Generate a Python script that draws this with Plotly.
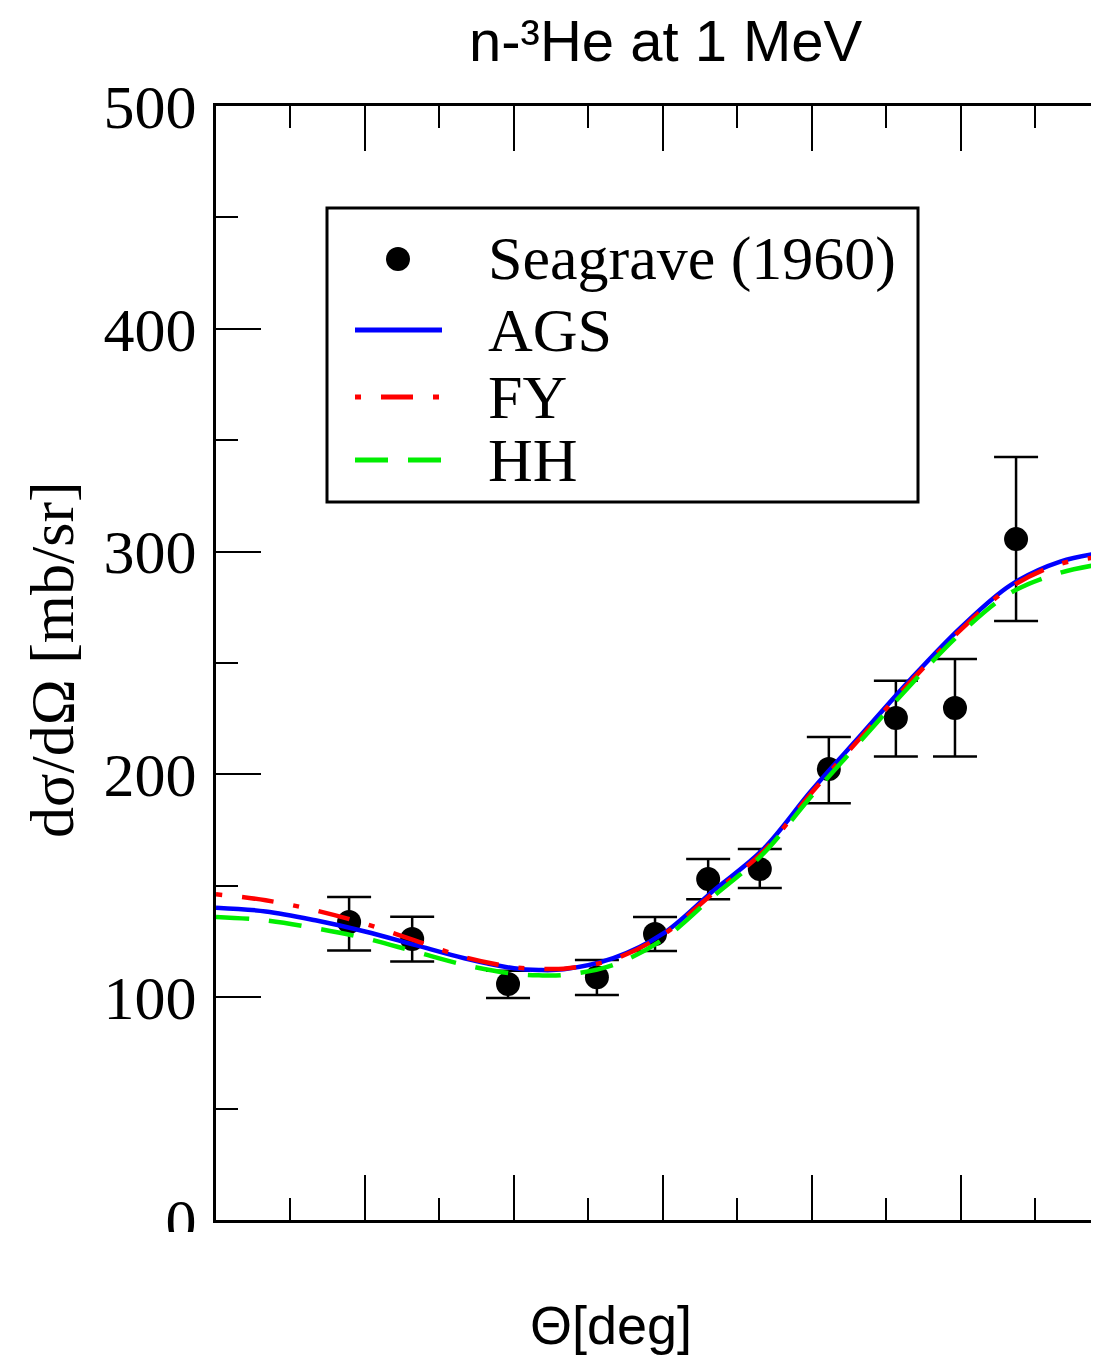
import plotly.graph_objects as go

# Seagrave (1960) data points
theta_exp = [26.8, 39.5, 58.8, 76.7, 88.4, 99.1, 109.5, 123.4, 136.9, 148.8, 161.1]
xs_exp = [133.8, 126.1, 105.9, 109.0, 128.4, 153.0, 157.5, 202.4, 225.3, 229.8, 305.6]
err_up = [11.2, 10.0, 6.0, 7.7, 7.6, 9.0, 9.0, 14.4, 16.7, 22.0, 36.9]
err_dn = [12.8, 10.1, 6.3, 8.0, 7.7, 9.0, 8.5, 15.4, 17.3, 21.8, 36.7]

# theory curves
theta_th = [0, 10, 20, 30, 40, 50, 60, 65, 70, 80, 90, 100, 110, 120, 130, 140, 150, 160, 170, 180]
ags = [140.2, 138.5, 134.5, 129.5, 123.5, 117.5, 113.0, 112.2, 112.5, 117.5, 128.5, 147.5, 166.0,
       193.0, 218.0, 243.0, 266.0, 285.0, 295.5, 300.0]
fy = [146.2, 143.5, 139.0, 133.0, 125.5, 118.0, 113.5, 112.8, 112.8, 117.0, 128.0, 146.5, 165.0,
      192.0, 217.0, 242.0, 265.0, 284.0, 294.5, 298.0]
hh = [136.0, 134.5, 131.0, 126.5, 120.5, 114.5, 110.5, 109.8, 110.0, 114.5, 126.0, 145.0, 164.0,
      190.5, 215.5, 240.5, 263.5, 281.5, 290.5, 295.0]

serif = "Liberation Serif"
sans = "Liberation Sans"

# the page body has an 8px margin, so the figure is drawn 8px smaller and shifted
OFF = 8
W, H = 1099 - OFF, 1356 - OFF
L, R, T = 216 - OFF, 0, 106 - OFF
B = H - (1220 - OFF)
pw, ph = W - L - R, H - T - B


def px(x):
    # page x pixel -> paper coordinate
    return (x - OFF - L) / pw


def py(y):
    # page y pixel -> paper coordinate
    return (H - B - (y - OFF)) / ph


blue = "#0000ff"
red = "#ff0000"
green = "#00ee00"
ags_dash = "solid"
fy_dash = "6px,20px,32px,20px"
hh_dash = "33px,20px"

fig = go.Figure()
fig.add_trace(go.Scatter(x=theta_exp, y=xs_exp, mode="markers", name="Seagrave (1960)",
                         marker=dict(color="black", size=24), showlegend=False,
                         error_y=dict(type="data", array=err_up, arrayminus=err_dn,
                                      color="black", thickness=2.5, width=22)))
fig.add_trace(go.Scatter(x=theta_th, y=ags, mode="lines", name="AGS", line_shape="spline",
                         showlegend=False, line=dict(color=blue, width=4.5, dash=ags_dash)))
fig.add_trace(go.Scatter(x=theta_th, y=fy, mode="lines", name="FY", line_shape="spline",
                         showlegend=False, line=dict(color=red, width=4.5, dash=fy_dash)))
fig.add_trace(go.Scatter(x=theta_th, y=hh, mode="lines", name="HH", line_shape="spline",
                         showlegend=False, line=dict(color=green, width=4.5, dash=hh_dash)))

# hand-drawn legend box, like the original figure
shapes = [
    dict(type="rect", xref="paper", yref="paper", x0=px(327), x1=px(918), y0=py(502), y1=py(208),
         line=dict(color="black", width=3), fillcolor="white", layer="above"),
    dict(type="circle", xref="paper", yref="paper", xsizemode="pixel", ysizemode="pixel",
         xanchor=px(398), yanchor=py(259), x0=-12, x1=12, y0=-12, y1=12,
         fillcolor="black", line=dict(width=0), layer="above"),
]
for yy, col, dsh in [(330, blue, ags_dash), (397, red, fy_dash), (460, green, hh_dash)]:
    shapes.append(dict(type="line", xref="paper", yref="paper", x0=px(355), x1=px(442),
                       y0=py(yy), y1=py(yy), line=dict(color=col, width=5, dash=dsh), layer="above"))
# white patch that clips the bottom of the "0" label like the original crop
shapes.append(dict(type="rect", xref="paper", yref="paper", x0=-0.3, x1=-0.004, y0=py(1232), y1=py(1290),
                   fillcolor="white", line=dict(width=0), layer="above"))

annotations = []
for yy, txt in [(258, "Seagrave (1960)"), (330, "AGS"), (397, "FY"), (460, "HH")]:
    annotations.append(dict(text=txt, xref="paper", yref="paper", x=px(486), y=py(yy),
                            xanchor="left", yanchor="middle", showarrow=False,
                            font=dict(family=serif, size=62, color="black")))
annotations.append(dict(text="Θ[deg]", xref="paper", yref="paper", x=px(611), y=py(1325),
                        xanchor="center", yanchor="middle", showarrow=False,
                        font=dict(family=sans, size=54, color="black")))
annotations.append(dict(text="dσ/dΩ [mb/sr]", xref="paper", yref="paper", x=px(52), y=py(660),
                        xanchor="center", yanchor="middle", showarrow=False, textangle=-90,
                        font=dict(family=serif, size=62, color="black")))
annotations.append(dict(text="n-³He at 1 MeV", xref="paper", yref="paper", x=px(666), y=py(40),
                        xanchor="center", yanchor="middle", showarrow=False,
                        font=dict(family=sans, size=58, color="black")))

fig.update_layout(
    width=W, height=H,
    margin=dict(l=L, r=R, t=T, b=B),
    plot_bgcolor="white", paper_bgcolor="white",
    showlegend=False,
    xaxis=dict(range=[0, 177.8], dtick=30, tick0=0, ticks="inside", ticklen=45, tickwidth=2,
               tickcolor="black", showticklabels=False, showgrid=False, zeroline=False,
               showline=True, linecolor="black", linewidth=3, mirror="ticks", automargin=False,
               minor=dict(dtick=15, ticks="inside", ticklen=22, tickwidth=2, tickcolor="black")),
    yaxis=dict(range=[0, 500], dtick=100, ticks="inside", ticklen=45, tickwidth=2,
               tickcolor="black", showgrid=False, zeroline=False, automargin=False,
               showline=True, linecolor="black", linewidth=3,
               tickfont=dict(family=serif, size=62, color="black"), ticklabelstandoff=4,
               minor=dict(dtick=50, ticks="inside", ticklen=22, tickwidth=2, tickcolor="black")),
    yaxis2=dict(range=[0, 500], overlaying="y", side="right", dtick=100, ticks="inside",
                ticklen=45, tickwidth=2, tickcolor="black", showticklabels=False, automargin=False,
                showgrid=False, zeroline=False, showline=False,
                minor=dict(dtick=50, ticks="inside", ticklen=22, tickwidth=2, tickcolor="black")),
    shapes=shapes,
    annotations=annotations,
)

fig.write_html("out.html")
